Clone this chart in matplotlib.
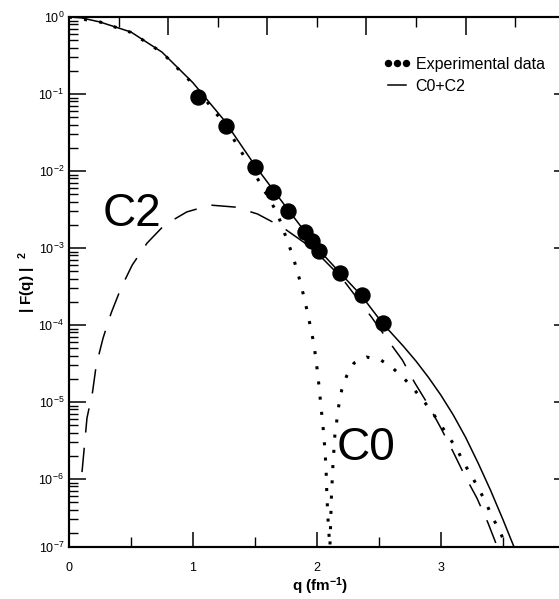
import numpy as np
import matplotlib
matplotlib.use("Agg")
import matplotlib.pyplot as plt
from matplotlib.ticker import FixedLocator, LogLocator, NullFormatter

plt.rcParams['font.family'] = ['Liberation Sans', 'DejaVu Sans']
plt.rcParams['mathtext.fontset'] = 'custom'
plt.rcParams['mathtext.rm'] = 'Liberation Sans'
plt.rcParams['mathtext.bf'] = 'Liberation Sans:bold'
plt.rcParams['mathtext.it'] = 'Liberation Sans:italic'

# experimental points
q_exp = [1.04, 1.27, 1.50, 1.645, 1.77, 1.90, 1.96, 2.02, 2.19, 2.36, 2.53]
f_exp = [0.0914, 0.0384, 0.0113, 0.00533, 0.00303, 0.00162, 0.00123,
         0.000914, 0.000473, 0.000245, 0.000106]

# C0+C2 total
q_tot = [0.0, 0.1, 0.25, 0.5, 0.75, 1.0, 1.25, 1.5, 1.77, 2.02, 2.19, 2.36,
         2.53, 2.6, 2.7, 2.8, 2.9, 3.0, 3.1, 3.2, 3.3, 3.4, 3.5, 3.6]
f_tot = [1.0, 0.975, 0.861, 0.638, 0.35, 0.14, 0.046, 0.0118, 0.0031,
         0.00093, 0.00047, 0.00024, 0.000105, 7.9e-5, 5.25e-5, 3.39e-5,
         2.09e-5, 1.23e-5, 6.8e-6, 3.47e-6, 1.62e-6, 7.2e-7, 3.0e-7, 1.2e-7]

# C0 contribution (diffraction minimum near q = 2.1)
q_c0 = [0.0, 0.25, 0.5, 0.75, 1.0, 1.25, 1.5, 1.68, 1.806, 1.871, 1.927,
        1.976, 2.008, 2.032, 2.056, 2.073, 2.081, 2.093, 2.105, 2.117,
        2.129, 2.145, 2.161, 2.177, 2.2, 2.24, 2.3, 2.4, 2.516, 2.61, 2.7,
        2.78, 2.855, 2.93, 3.0, 3.065, 3.13, 3.185, 3.25, 3.306, 3.363,
        3.41, 3.468, 3.516]
f_c0 = [1.0, 0.861, 0.631, 0.347, 0.135, 0.0417, 0.00912, 0.00285, 7.87e-4,
        3.40e-4, 1.39e-4, 5.66e-5, 2.24e-5, 9.1e-6, 3.72e-6, 1.48e-6,
        5.8e-7, 2.38e-7, 1.32e-7, 5.8e-7, 1.48e-6, 3.72e-6, 5.8e-6, 9.1e-6,
        1.43e-5, 2.18e-5, 3.21e-5, 3.84e-5, 3.51e-5, 2.77e-5, 2.05e-5,
        1.48e-5, 1.06e-5, 7.4e-6, 5.0e-6, 3.5e-6, 2.45e-6, 1.61e-6, 1.09e-6,
        7.4e-7, 5.0e-7, 3.3e-7, 2.24e-7, 1.48e-7]

# C2 contribution
q_c2 = [0.105, 0.145, 0.19, 0.22, 0.275, 0.34, 0.42, 0.51, 0.63, 0.77, 0.95,
        1.14, 1.34, 1.52, 1.72, 1.9, 2.05, 2.2, 2.44, 2.56, 2.69, 2.79, 2.9,
        3.0, 3.1, 3.19, 3.29, 3.38, 3.46]
f_c2 = [1.23e-6, 6.19e-6, 1.35e-5, 3.03e-5, 6.78e-5, 1.43e-4, 3.03e-4,
        6.01e-4, 1.16e-3, 1.99e-3, 2.94e-3, 3.61e-3, 3.40e-3, 2.77e-3,
        1.87e-3, 1.17e-3, 7.2e-4, 4.1e-4, 1.27e-4, 6.8e-5, 3.5e-5, 1.77e-5,
        9.1e-6, 4.6e-6, 2.24e-6, 1.13e-6, 5.7e-7, 2.7e-7, 1.26e-7]

y_ticks = [1e0, 1e-1, 1e-2, 1e-3, 1e-4, 1e-5, 1e-6, 1.31e-7]
y_labels = ['$10^{0}$', '$10^{-1}$', '$10^{-2}$', '$10^{-3}$', '$10^{-4}$',
            '$10^{-5}$', '$10^{-6}$', '$10^{-7}$']

fig = plt.figure(figsize=(5.59, 5.99), dpi=100)
ax = fig.add_axes([69 / 559, 52 / 599, 502 / 559, 530 / 599])

ax.plot(q_tot, f_tot, color='black', lw=1.1, label='C0+C2')
ax.plot(q_c0, f_c0, color='black', lw=2.2, ls=(0, (1, 4)))
ax.plot(q_c2, f_c2, color='black', lw=1.1, ls=(0, (16, 10)))
ax.plot(q_exp, f_exp, 'o', color='black', ms=10.8, label='Experimental data')

ax.set_yscale('log')
ax.set_xlim(0, 4.05)
ax.set_ylim(1.31e-7, 1.0)

# ticks
ax.set_xticks([0, 1, 2, 3])
ax.set_xticks([0.5, 1.5, 2.5, 3.5], minor=True)
ax.yaxis.set_major_locator(FixedLocator(y_ticks))
ax.set_yticklabels(y_labels)
ax.yaxis.set_minor_locator(LogLocator(base=10, subs=np.arange(2, 10), numticks=20))
ax.yaxis.set_minor_formatter(NullFormatter())
ax.tick_params(axis='y', which='major', direction='in', length=12, width=1.1,
               right=True, labelsize=9)
ax.tick_params(axis='y', which='minor', direction='in', length=6.5, width=1.0,
               right=True)
ax.tick_params(axis='x', which='major', direction='in', length=11, width=1.1,
               top=False, labelsize=9, pad=11)
ax.tick_params(axis='x', which='minor', direction='in', length=7, width=1.0,
               top=False)

# top axis has its own spacing
ax2 = ax.twiny()
ax2.set_xlim(ax.get_xlim())
ax2.set_xticks([0.8, 1.6, 2.4, 3.2])
ax2.set_xticks([0.4, 1.2, 2.0, 2.8, 3.6], minor=True)
ax2.tick_params(which='major', direction='in', length=13, width=1.1, labeltop=False)
ax2.tick_params(which='minor', direction='in', length=7.5, width=1.0)

for a in (ax, ax2):
    for s in a.spines.values():
        s.set_linewidth(1.5)

ax.set_xlabel('q (fm$^{\\mathbf{-1}}$)', fontsize=11, fontweight='bold', labelpad=0.5)
ax.set_ylabel('| F(q) |  $^{\\mathbf{2}}$', fontsize=11, fontweight='bold', labelpad=0.5)

ax.text(0.51, 10**-2.56, 'C2', fontsize=33, ha='center', va='center')
ax.text(2.4, 10**-5.6, 'C0', fontsize=33, ha='center', va='center')

handles, labels = ax.get_legend_handles_labels()
ax.legend(handles[::-1], labels[::-1], loc='upper left',
          bbox_to_anchor=(0.6255, 0.925), frameon=False, numpoints=3,
          markerscale=0.4, handlelength=1.75, handletextpad=0.3,
          borderpad=0, borderaxespad=0, labelspacing=0.45,
          prop={'size': 11.5})

fig.savefig('out.png', dpi=100)
